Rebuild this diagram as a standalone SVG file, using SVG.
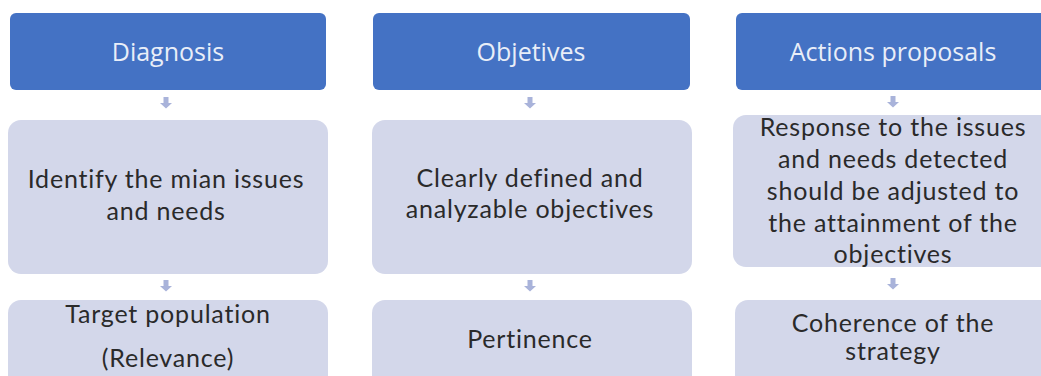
<svg xmlns="http://www.w3.org/2000/svg" width="1041" height="376" viewBox="0 0 1041 376">
<defs>
<style>
.hdr{fill:#4472c4}
.box{fill:#d3d7ea}
.ht{font-family:"Open Sans","Noto Sans",sans-serif;font-size:25px;fill:#e9eef8;text-anchor:middle}
.bt{font-family:Lato,"Liberation Sans",sans-serif;font-size:25px;letter-spacing:0.8px;fill:#2a2a2a;text-anchor:middle}
.arr{fill:#a9b3da}
</style>
<path id="dn" d="M-2.5,-6 h5 v6 h3.5 l-6,5.5 l-6,-5.5 h3.5 z"/>
</defs>
<rect width="1041" height="376" fill="#ffffff"/>
<g id="connectors" class="arr">
<use href="#dn" x="166" y="103"/>
<use href="#dn" x="166" y="286"/>
<use href="#dn" x="530" y="103"/>
<use href="#dn" x="530" y="286"/>
<use href="#dn" x="893" y="102"/>
<use href="#dn" x="893" y="284"/>
</g>
<g id="diagnosis"><rect class="hdr" x="10" y="13" width="316" height="77" rx="6"/><text class="ht" x="168" y="61">Diagnosis</text></g>
<g id="objetives"><rect class="hdr" x="373" y="13" width="317" height="77" rx="6"/><text class="ht" x="531" y="61">Objetives</text></g>
<g id="actions"><rect class="hdr" x="736" y="13" width="320" height="77" rx="6"/><text class="ht" x="893" y="61">Actions proposals</text></g>
<g id="issues"><rect class="box" x="8" y="120" width="320" height="154" rx="13"/><text class="bt" x="166" y="188">Identify the mian issues</text><text class="bt" x="166" y="220">and needs</text></g>
<g id="defined"><rect class="box" x="372" y="120" width="320" height="154" rx="13"/><text class="bt" x="530" y="187">Clearly defined and</text><text class="bt" x="530" y="218">analyzable objectives</text></g>
<g id="response"><rect class="box" x="733" y="115" width="330" height="152" rx="13"/><text class="bt" x="893" y="136">Response to the issues</text><text class="bt" x="893" y="168">and needs detected</text><text class="bt" x="893" y="200">should be adjusted to</text><text class="bt" x="893" y="232">the attainment of the</text><text class="bt" x="893" y="263">objectives</text></g>
<g id="target"><rect class="box" x="8" y="300" width="320" height="90" rx="13"/><text class="bt" x="168" y="323">Target population</text><text class="bt" x="168" y="367">(Relevance)</text></g>
<g id="pertinence"><rect class="box" x="372" y="300" width="320" height="90" rx="13"/><text class="bt" x="530" y="348">Pertinence</text></g>
<g id="coherence"><rect class="box" x="735" y="300" width="330" height="90" rx="13"/><text class="bt" x="893" y="332">Coherence of the</text><text class="bt" x="893" y="360">strategy</text></g>
</svg>
